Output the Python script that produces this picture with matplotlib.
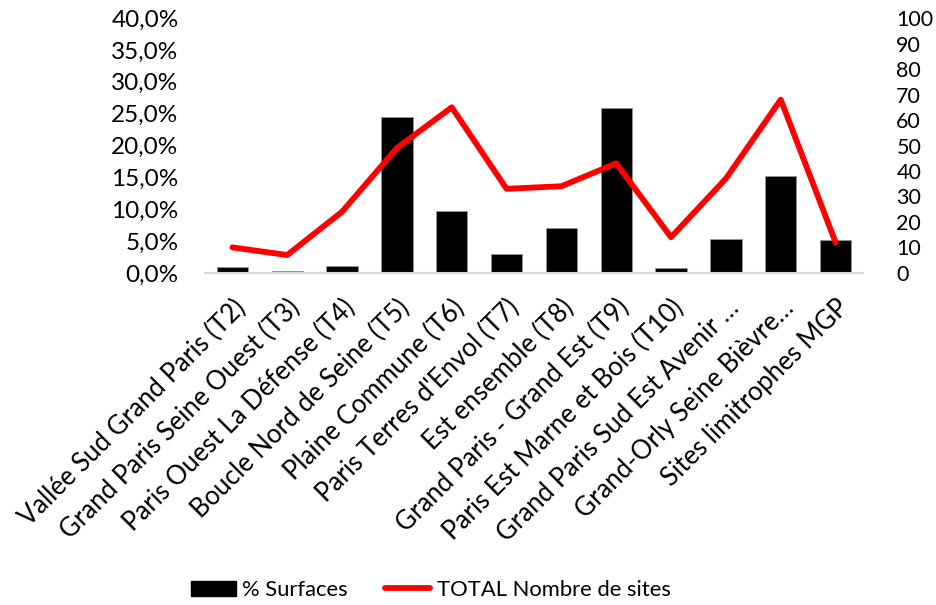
import matplotlib
matplotlib.use("Agg")
import matplotlib.pyplot as plt
from matplotlib.ticker import FuncFormatter, MultipleLocator
from matplotlib.patches import Patch
from matplotlib.lines import Line2D

plt.rcParams['font.family'] = ['Lato', 'DejaVu Sans']

# Territoires
territoires = [
    "Vallée Sud Grand Paris (T2)",
    "Grand Paris Seine Ouest (T3)",
    "Paris Ouest La Défense (T4)",
    "Boucle Nord de Seine (T5)",
    "Plaine Commune (T6)",
    "Paris Terres d'Envol (T7)",
    "Est ensemble (T8)",
    "Grand Paris - Grand Est (T9)",
    "Paris Est Marne et Bois (T10)",
    "Grand Paris Sud Est Avenir …",
    "Grand-Orly Seine Bièvre…",
    "Sites limitrophes MGP",
]
# part des surfaces (%)
surfaces = [0.9, 0.25, 1.0, 24.4, 9.7, 3.0, 7.0, 25.9, 0.7, 5.3, 15.2, 5.2]
# nombre de sites
nb_sites = [10, 7, 24, 49, 65, 33, 34, 43, 14, 37, 68, 12]

fig = plt.figure(figsize=(9.36, 6.05), dpi=100)
ax = fig.add_axes([0.219, 0.549, 0.703, 0.421])
x = range(len(territoires))

ax.bar(x, surfaces, width=0.57, color='black', edgecolor='#999999', linewidth=0.5, zorder=2)
ax.set_ylim(0, 40)
ax.set_xlim(-0.5, len(territoires) - 0.5)
ax.yaxis.set_major_locator(MultipleLocator(5))
ax.yaxis.set_major_formatter(FuncFormatter(lambda v, p: f"{v:.1f}%".replace('.', ',')))

ax2 = ax.twinx()
ax2.plot(x, nb_sites, color='#ff0000', linewidth=4.2, solid_joinstyle='round',
         solid_capstyle='round', zorder=3)
ax2.set_ylim(0, 100)
ax2.yaxis.set_major_locator(MultipleLocator(10))

for a in (ax, ax2):
    for s in a.spines.values():
        s.set_visible(False)
    a.tick_params(length=0, labelsize=17.5, colors='black')
ax.spines['bottom'].set_visible(True)
ax.spines['bottom'].set_color('#d9d9d9')
ax.spines['bottom'].set_linewidth(1.5)
ax.tick_params(axis='y', pad=19)
ax2.tick_params(axis='y', pad=24, labelsize=15.5)

ax.set_xticks(list(x))
ax.set_xticklabels(territoires, rotation=45, ha='right', va='top',
                   rotation_mode='anchor', fontsize=18.5)
ax.tick_params(axis='x', pad=16)

handles = [Patch(facecolor='black', edgecolor='black'),
           Line2D([0], [0], color='#ff0000', linewidth=4.2, solid_capstyle='round')]
fig.legend(handles, ['% Surfaces', 'TOTAL Nombre de sites'], loc='center',
           bbox_to_anchor=(0.46, 0.025), ncol=2, frameon=False, fontsize=15.8,
           handlelength=2.05, handletextpad=0.3, columnspacing=1.7)

fig.savefig('out.png', dpi=100)
